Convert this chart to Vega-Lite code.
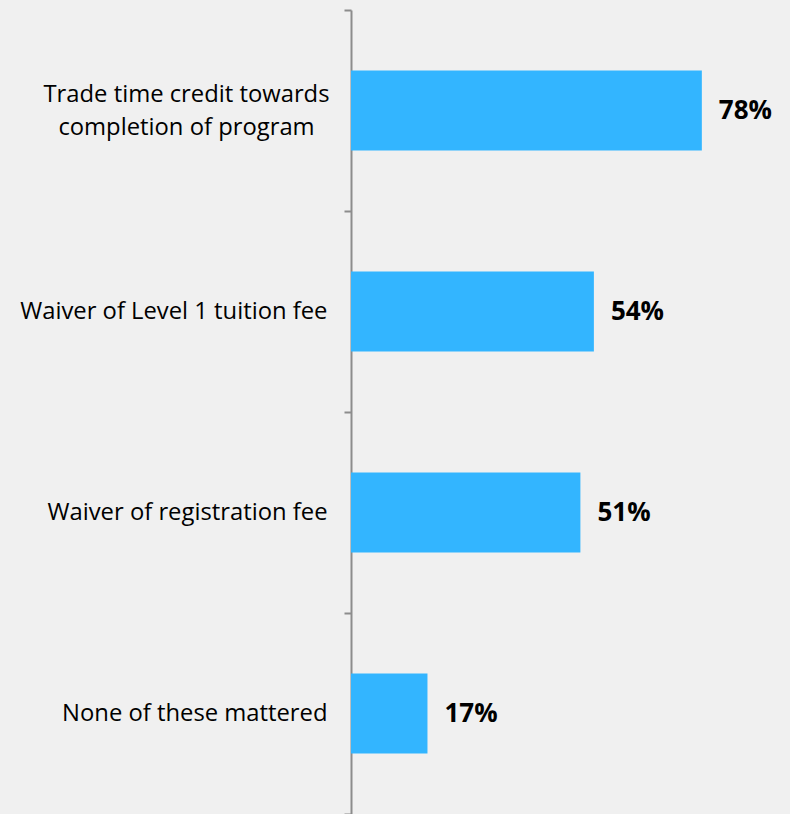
{
  "$schema": "https://vega.github.io/schema/vega-lite/v6.json",
  "width": 439,
  "height": 804,
  "autosize": {"type": "none"},
  "padding": {"left": 351, "top": 10, "right": 0, "bottom": 0},
  "background": "#f0f0f0",
  "config": {"view": {"stroke": null}},
  "data": {"values": [
    {"item": "Trade time credit towards|completion of program", "pct": 78, "label": "78%", "order": 1},
    {"item": "Waiver of Level 1 tuition fee", "pct": 54, "label": "54%", "order": 2},
    {"item": "Waiver of registration fee", "pct": 51, "label": "51%", "order": 3},
    {"item": "None of these mattered", "pct": 17, "label": "17%", "order": 4}
  ]},
  "encoding": {
    "y": {
      "field": "item", "type": "nominal", "sort": {"field": "order"},
      "scale": {"paddingInner": 0, "paddingOuter": 0},
      "axis": {
        "title": null,
        "domainColor": "#8c8c8c", "domainWidth": 2,
        "tickColor": "#8c8c8c", "tickWidth": 2, "tickSize": 7, "tickBand": "extent",
        "labelFont": "Open Sans", "labelFontSize": 23.8, "labelColor": "#000000",
        "labelPadding": {"expr": "indexof(datum.label, '|') >= 0 ? 158 : 17"},
        "labelAlign": {"expr": "indexof(datum.label, '|') >= 0 ? 'center' : 'right'"},
        "labelLineHeight": 33,
        "labelOffset": {"expr": "indexof(datum.label, '|') >= 0 ? -16 : 0"},
        "labelExpr": "split(datum.label, '|')", "labelLimit": 400
      }
    },
    "x": {"field": "pct", "type": "quantitative", "scale": {"domain": [0, 97.6]}, "axis": null}
  },
  "layer": [
    {"mark": {"type": "bar", "color": "#33b5ff", "height": {"band": 0.398}}},
    {"mark": {"type": "text", "align": "left", "baseline": "middle", "dx": 17, "font": "Open Sans", "fontWeight": "bold", "fontSize": 26, "color": "#000000"},
     "encoding": {"text": {"field": "label", "type": "nominal"}, "detail": {"field": "item"}}}
  ]
}
